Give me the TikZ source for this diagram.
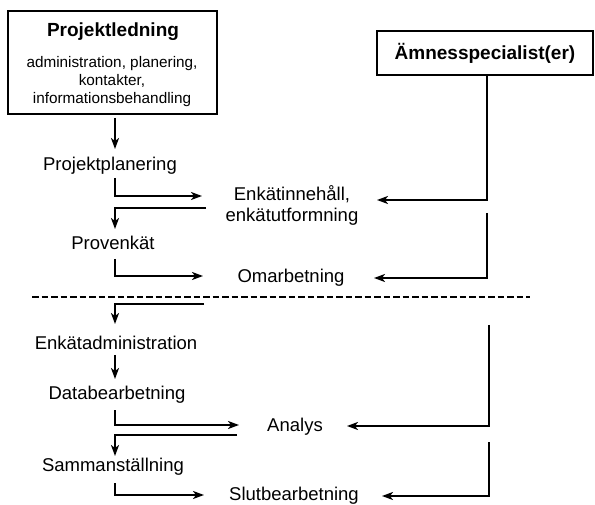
\documentclass[tikz,border=0pt]{standalone}
\usepackage{fontspec}
\setmainfont{Liberation Sans}
\usetikzlibrary{arrows.meta}
\begin{document}
\begin{tikzpicture}[x=1pt,y=-1pt,
  lbl/.style={inner sep=0pt,font=\fontsize{18.5}{21}\selectfont},
  ttl/.style={inner sep=0pt,font=\fontsize{19}{22}\selectfont\bfseries},
  sub/.style={inner sep=0pt,align=center,font=\fontsize{15.3}{18}\selectfont},
  boxed/.style={draw,line width=2pt,inner sep=0pt},
  arr/.style={line width=1.8pt,-{Stealth[length=11pt,width=8pt,inset=3pt]}},
  dsh/.style={line width=1.8pt,dash pattern=on 6.5pt off 3pt}]
\useasboundingbox (0,0) rectangle (595,505);
% boxes
\node[boxed,minimum width=209pt,minimum height=103pt] (pl) at (112.5,62.5) {};
\node[ttl] (plt) at (113,32) {Projektledning};
\node[sub] (pls) at (112,82) {administration, planering,\\kontakter,\\informationsbehandling};
\node[boxed,minimum width=216pt,minimum height=44pt] (as) at (485,53) {};
\node[ttl] (ast) at (485,53) {Ämnesspecialist(er)};
% left column labels
\node[lbl] (pp) at (110,166) {Projektplanering};
\node[lbl] (pv) at (113,243) {Provenkät};
\node[lbl] (ea) at (116,343) {Enkätadministration};
\node[lbl] (db) at (117,395) {Databearbetning};
\node[lbl] (sa) at (113,467) {Sammanställning};
% middle labels
\node[lbl,align=center] (en) at (292,205) {Enkätinnehåll,\\enkätutformning};
\node[lbl] (om) at (291,278) {Omarbetning};
\node[lbl] (an) at (295,427) {Analys};
\node[lbl] (sb) at (294,496) {Slutbearbetning};
% coordinates
\coordinate (a1) at (115,118); \coordinate (a2) at (115,149);
\coordinate (b1) at (115,178); \coordinate (b2) at (115,196); \coordinate (b3) at (202,196);
\coordinate (c1) at (206,208); \coordinate (c2) at (115,208); \coordinate (c3) at (115,229);
\coordinate (d1) at (115,259); \coordinate (d2) at (115,276); \coordinate (d3) at (203,276);
\coordinate (e1) at (487,75); \coordinate (e2) at (487,200); \coordinate (e3) at (377,200);
\coordinate (f1) at (487,213); \coordinate (f2) at (487,278); \coordinate (f3) at (374,278);
\coordinate (g1) at (32,297); \coordinate (g2) at (530,297);
\coordinate (h1) at (204,304); \coordinate (h2) at (115,304); \coordinate (h3) at (115,324);
\coordinate (i1) at (115,355); \coordinate (i2) at (115,379);
\coordinate (j1) at (115,410); \coordinate (j2) at (115,425); \coordinate (j3) at (239,425);
\coordinate (k1) at (237,435); \coordinate (k2) at (115,435); \coordinate (k3) at (115,456);
\coordinate (l1) at (489,325); \coordinate (l2) at (489,426); \coordinate (l3) at (347,426);
\coordinate (m1) at (115,483); \coordinate (m2) at (115,495); \coordinate (m3) at (204,495);
\coordinate (n1) at (489,442); \coordinate (n2) at (489,496); \coordinate (n3) at (382,496);
% connectors
\draw[arr] (a1) -- (a2);
\draw[arr] (b1) -- (b2) -- (b3);
\draw[arr] (c1) -- (c2) -- (c3);
\draw[arr] (d1) -- (d2) -- (d3);
\draw[arr] (e1) -- (e2) -- (e3);
\draw[arr] (f1) -- (f2) -- (f3);
\draw[dsh] (g1) -- (g2);
\draw[arr] (h1) -- (h2) -- (h3);
\draw[arr] (i1) -- (i2);
\draw[arr] (j1) -- (j2) -- (j3);
\draw[arr] (k1) -- (k2) -- (k3);
\draw[arr] (l1) -- (l2) -- (l3);
\draw[arr] (m1) -- (m2) -- (m3);
\draw[arr] (n1) -- (n2) -- (n3);
\end{tikzpicture}
\end{document}
